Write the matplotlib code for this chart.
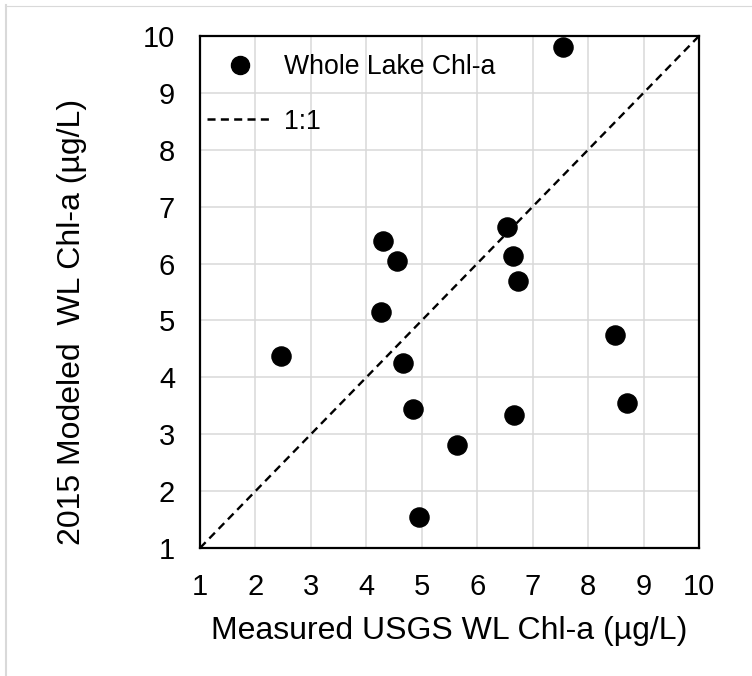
import matplotlib
matplotlib.use("Agg")
import matplotlib.pyplot as plt
from matplotlib.lines import Line2D

plt.rcParams['font.family'] = ['Liberation Sans', 'DejaVu Sans']
plt.rcParams['lines.scale_dashes'] = False

# Data
measured = [2.46, 4.30, 4.55, 4.26, 4.66, 4.84, 4.95, 5.64, 6.53, 6.65, 6.73, 6.67, 7.55, 8.49, 8.71]
modeled = [4.38, 6.39, 6.04, 5.14, 4.25, 3.44, 1.55, 2.81, 6.65, 6.14, 5.69, 3.33, 9.81, 4.75, 3.55]
one_to_one = [1, 10]
ticks = [1, 2, 3, 4, 5, 6, 7, 8, 9, 10]
series_label = "Whole Lake Chl-a"
line_label = "1:1"
xlabel = "Measured USGS WL Chl-a (\u00b5g/L)"
ylabel = "2015 Modeled  WL Chl-a (\u00b5g/L)"

W, H = 752, 676
dpi = 100
fig = plt.figure(figsize=(W / dpi, H / dpi), dpi=dpi)
left, right, top, bottom = 200, 699, 36, 548
ax = fig.add_axes([left / W, 1 - bottom / H, (right - left) / W, (bottom - top) / H])

dash = (0, (5.8, 3.8))
ax.plot(one_to_one, one_to_one, color='black', lw=1.7, linestyle=dash,
        label=line_label, zorder=3)
ax.scatter(measured, modeled, s=190, color='black', label=series_label, zorder=4,
           clip_on=False)

ax.set_xlim(1, 10)
ax.set_ylim(1, 10)
ax.set_xticks(ticks)
ax.set_yticks(ticks)
ax.grid(True, color='#d9d9d9', lw=1.1, zorder=0)
ax.set_axisbelow(True)
for s in ax.spines.values():
    s.set_linewidth(1.6)
    s.set_color('black')
ax.tick_params(length=0, labelsize=21, pad=18)

ax.set_xlabel(xlabel, fontsize=23)
ax.xaxis.set_label_coords(0.5, (548 - 631) / 512, transform=ax.transAxes)
ax.xaxis.label.set_va('center')
ax.set_ylabel(ylabel, fontsize=23)
ax.yaxis.set_label_coords((72 - 200) / 499, (548 - 322) / 512, transform=ax.transAxes)
ax.yaxis.label.set_va('center')

handles = [Line2D([], [], marker='o', color='black', linestyle='none', markersize=13),
           Line2D([], [], color='black', lw=1.8, linestyle=dash)]
leg = ax.legend(handles, [series_label, line_label], loc='upper left',
                bbox_to_anchor=((207 - 200) / 499, (548 - 54) / 512),
                frameon=False, fontsize=19.2, handlelength=2.46, handletextpad=0.44,
                labelspacing=1.07, borderpad=0, borderaxespad=0)

# Outer light frame (partially cropped)
fig.add_artist(Line2D([6 / W, 6 / W], [0, 1 - 5 / H], color='#d9d9d9', lw=1.5,
                      transform=fig.transFigure))
fig.add_artist(Line2D([5 / W, 1], [1 - 5.5 / H, 1 - 5.5 / H], color='#d9d9d9', lw=0.8,
                      transform=fig.transFigure))

fig.savefig('out.png', dpi=dpi)
